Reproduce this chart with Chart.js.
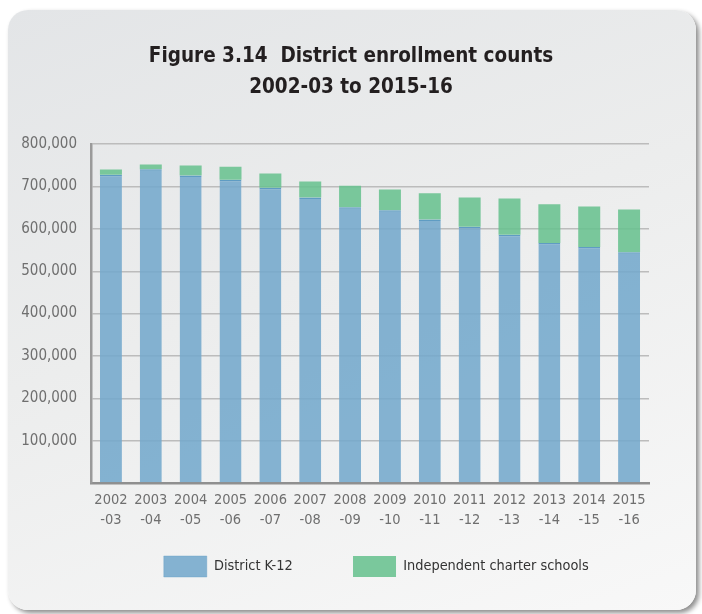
<!DOCTYPE html>
<html>
<head>
<meta charset="utf-8">
<script src="https://cdn.jsdelivr.net/npm/chart.js@4/dist/chart.umd.min.js"></script>
<style>
  html, body { margin: 0; padding: 0; background: #ffffff; }
  body { width: 702px; height: 614px; position: relative; overflow: hidden; }
  .card {
    position: absolute; left: 8px; top: 10px; width: 688px; height: 600px;
    border-radius: 20px;
    background: linear-gradient(160deg, #e3e5e7 0%, #eceded 45%, #f8f8f8 100%);
    box-shadow: 3px 3px 5px rgba(0,0,0,0.45);
  }
  .wrap { position: absolute; left: 0; top: 0; width: 702px; height: 614px; }
</style>
</head>
<body>
<div class="card"></div>
<div class="wrap"><canvas id="c" width="702" height="614"></canvas></div>
<script>
const titleLines = ['Figure 3.14  District enrollment counts', '2002-03 to 2015-16'];
const categories = [
  ['2002', '-03'], ['2003', '-04'], ['2004', '-05'], ['2005', '-06'], ['2006', '-07'],
  ['2007', '-08'], ['2008', '-09'], ['2009', '-10'], ['2010', '-11'], ['2011', '-12'],
  ['2012', '-13'], ['2013', '-14'], ['2014', '-15'], ['2015', '-16']
];
const seriesNames = ['District K-12', 'Independent charter schools'];
const districtK12 = [728000, 741000, 726000, 716000, 697000, 674000, 651000, 644000, 622000, 605000, 586000, 567000, 557000, 545000];
const charterSchools = [12000, 11000, 24000, 31000, 34000, 38000, 51000, 49000, 62000, 69000, 86000, 91000, 96000, 101000];
const yTicks = [0, 100000, 200000, 300000, 400000, 500000, 600000, 700000, 800000];

const FONT = '"DejaVu Sans Condensed", "Liberation Sans Narrow", sans-serif';

new Chart(document.getElementById('c'), {
  type: 'bar',
  data: {
    labels: categories,
    datasets: [
      {
        label: seriesNames[0],
        data: districtK12,
        backgroundColor: 'rgba(116,169,204,0.88)',
        borderColor: '#5f9cc3',
        borderWidth: { top: 1.5, left: 0, right: 0, bottom: 0 },
        borderSkipped: false,
        barPercentage: 0.552,
        categoryPercentage: 1.0
      },
      {
        label: seriesNames[1],
        data: charterSchools,
        backgroundColor: 'rgba(105,194,144,0.88)',
        borderWidth: 0,
        barPercentage: 0.552,
        categoryPercentage: 1.0
      }
    ]
  },
  options: {
    responsive: false,
    animation: false,
    layout: { padding: { left: 0, right: 0, top: 0, bottom: 27 } },
    plugins: {
      title: {
        display: true,
        text: titleLines,
        color: '#231f20',
        font: { family: FONT, size: 20.5, weight: 'bold', lineHeight: 1.5 },
        padding: { top: 41.5, bottom: 41.2 }
      },
      legend: {
        display: true,
        position: 'bottom',
        align: 'end',
        fullSize: false,
        title: {
          display: true,
          text: '',
          font: { size: 1, lineHeight: 0 },
          padding: { top: 0, bottom: -34.3 }
        },
        labels: {
          boxWidth: 43,
          boxHeight: 21,
          padding: 60.3,
          color: '#333333',
          font: { family: FONT, size: 14.4 }
        }
      },
      tooltip: { enabled: false }
    },
    scales: {
      x: {
        stacked: true,
        offset: true,
        grid: { display: false, drawTicks: false },
        border: { display: true, color: '#8f8f8f', width: 2.5 },
        ticks: {
          color: '#6f6f6f',
          padding: 7,
          maxRotation: 0,
          autoSkip: false,
          font: { family: FONT, size: 14.5, lineHeight: 1.38 }
        },
        afterFit: (s) => { s.height = 47; }
      },
      y: {
        stacked: true,
        min: 0,
        max: 800000,
        afterBuildTicks: (s) => { s.ticks = yTicks.map(v => ({ value: v })); },
        grid: { color: '#bcbcbc', lineWidth: 1.5, drawTicks: false },
        border: { display: true, color: '#9a9a9a', width: 2.5 },
        ticks: {
          color: '#6f6f6f',
          padding: 14,
          font: { family: FONT, size: 15 },
          callback: (v) => v === 0 ? '' : v.toLocaleString('en-US')
        },
        afterFit: (s) => { s.width = 91; }
      },
      yR: {
        position: 'right',
        display: true,
        grid: { display: false, drawTicks: false },
        border: { display: false },
        ticks: { display: false },
        afterFit: (s) => { s.width = 53; }
      }
    }
  }
});
</script>
</body>
</html>
